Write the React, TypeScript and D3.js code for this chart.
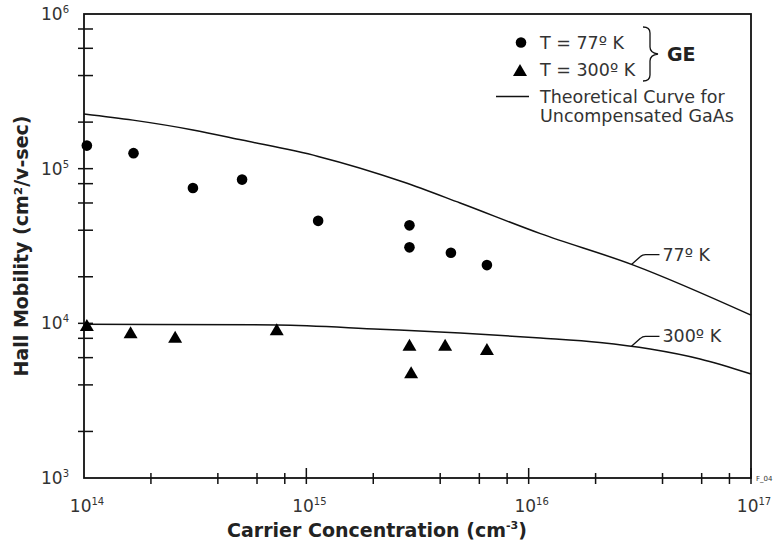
import React, { useEffect, useRef } from 'react';
import * as d3 from 'd3';

const W = 779;
const H = 548;

// GE samples at 77 K (cm^-3, cm^2/v-sec)
const ge77Conc = [1.03e14, 1.67e14, 3.09e14, 5.14e14, 1.13e15, 2.91e15, 2.91e15, 4.47e15, 6.49e15];
const ge77Mob = [1.41e5, 1.26e5, 7.5e4, 8.5e4, 4.6e4, 4.3e4, 3.1e4, 2.86e4, 2.38e4];

// GE samples at 300 K
const ge300Conc = [1.03e14, 1.62e14, 2.57e14, 7.36e14, 2.91e15, 2.96e15, 4.21e15, 6.49e15];
const ge300Mob = [9.76e3, 8.75e3, 8.2e3, 9.15e3, 7.28e3, 4.83e3, 7.28e3, 6.82e3];

// theoretical curves, uncompensated GaAs
const theory77Conc = [1e14, 1.66e14, 3.09e14, 5.14e14, 1.13e15, 2.73e15, 4.92e15, 1.13e16, 2.96e16, 1e17];
const theory77Mob = [2.26e5, 2.06e5, 1.78e5, 1.53e5, 1.2e5, 8.2e4, 6.0e4, 3.8e4, 2.38e4, 1.13e4];
const theory300Conc = [1e14, 7.4e14, 2.15e15, 4.92e15, 1.13e16, 2.09e16, 3.52e16, 5.9e16, 1e17];
const theory300Mob = [9.86e3, 9.76e3, 9.15e3, 8.66e3, 8.04e3, 7.52e3, 6.82e3, 5.88e3, 4.7e3];

// curve labels: text and where the leader touches the curve
const curveLabels = ['77º K', '300º K'];
const curveLabelAt = [[2.9e16, 2.4e4], [2.9e16, 7.1e3]];

// ticks
const xMinorTicks = [2e14, 4e14, 6e14, 8e14, 2e15, 4e15, 6e15, 8e15, 2e16, 4e16, 6e16, 8e16];
const xMajorTicks = [1e15, 1e16, 1e17];
const xTickLabels = [1e14, 1e15, 1e16, 1e17];
const yTicks = [2e3, 4e3, 6e3, 8e3, 1e4, 2e4, 4e4, 6e4, 8e4, 1e5, 2e5, 4e5, 6e5, 8e5];
const yTickLabels = [1e3, 1e4, 1e5, 1e6];

const FONT = '"DejaVu Sans", Verdana, sans-serif';
const INK = '#111';
const TEXT = '#333';

const App = () => {
  const ref = useRef<SVGSVGElement | null>(null);

  useEffect(() => {
    const svg = d3.select(ref.current);
    svg.selectAll('*').remove();

    const left = 84, right = 751, top = 14, bottom = 478;

    const x = d3.scaleLog().domain([1e14, 1e17]).range([left, right]);
    const y = d3.scaleLog().domain([1e3, 1e6]).range([bottom, top]);

    // frame
    svg.append('rect')
      .attr('x', left)
      .attr('y', top)
      .attr('width', right - left)
      .attr('height', bottom - top)
      .attr('fill', 'none')
      .attr('stroke', INK)
      .attr('stroke-width', 1.8);

    // y ticks
    svg.selectAll('.ytick')
      .data(yTicks)
      .enter()
      .append('line')
      .attr('x1', left - 6)
      .attr('x2', left + 9)
      .attr('y1', d => y(d))
      .attr('y2', d => y(d))
      .attr('stroke', INK)
      .attr('stroke-width', 1.5);

    // x ticks
    svg.selectAll('.xminor')
      .data(xMinorTicks)
      .enter()
      .append('line')
      .attr('x1', d => x(d))
      .attr('x2', d => x(d))
      .attr('y1', bottom - 5)
      .attr('y2', bottom + 6)
      .attr('stroke', INK)
      .attr('stroke-width', 1.5);

    svg.selectAll('.xmajor')
      .data(xMajorTicks)
      .enter()
      .append('line')
      .attr('x1', d => x(d))
      .attr('x2', d => x(d))
      .attr('y1', bottom - 10)
      .attr('y2', bottom + 6)
      .attr('stroke', INK)
      .attr('stroke-width', 1.5);

    const power = (sel, v) => {
      sel.append('tspan').text('10');
      sel.append('tspan')
        .attr('dy', -7)
        .attr('font-size', 10)
        .text(Math.round(Math.log10(v)));
    };

    // tick labels
    yTickLabels.forEach(v => {
      const t = svg.append('text')
        .attr('x', 69)
        .attr('y', y(v) + 6)
        .attr('text-anchor', 'end')
        .attr('font-family', FONT)
        .attr('font-size', 17)
        .attr('fill', TEXT);
      power(t, v);
    });

    xTickLabels.forEach(v => {
      const t = svg.append('text')
        .attr('x', x(v) + 3)
        .attr('y', 512)
        .attr('text-anchor', 'middle')
        .attr('font-family', FONT)
        .attr('font-size', 17)
        .attr('fill', TEXT);
      power(t, v);
    });

    // axis titles
    const xt = svg.append('text')
      .attr('x', 377)
      .attr('y', 537)
      .attr('text-anchor', 'middle')
      .attr('font-family', FONT)
      .attr('font-size', 19)
      .attr('font-weight', 'bold')
      .attr('fill', '#222');
    xt.append('tspan').text('Carrier Concentration (cm');
    xt.append('tspan').attr('dy', -8).attr('font-size', 11).text('-3');
    xt.append('tspan').attr('dy', 8).text(')');

    svg.append('text')
      .attr('transform', `translate(28, ${(top + bottom) / 2}) rotate(-90)`)
      .attr('text-anchor', 'middle')
      .attr('font-family', FONT)
      .attr('font-size', 19)
      .attr('font-weight', 'bold')
      .attr('fill', '#222')
      .text('Hall Mobility (cm²/v-sec)');

    // theory curves
    const line = d3.line()
      .x(d => x(d[0]))
      .y(d => y(d[1]))
      .curve(d3.curveMonotoneX);

    [[theory77Conc, theory77Mob], [theory300Conc, theory300Mob]].forEach(([cx, cy]) => {
      svg.append('path')
        .attr('d', line(cx.map((c, i) => [c, cy[i]])))
        .attr('fill', 'none')
        .attr('stroke', INK)
        .attr('stroke-width', 1.5);
    });

    // curve labels with leaders
    curveLabels.forEach((label, i) => {
      const ax = x(curveLabelAt[i][0]);
      const ay = y(curveLabelAt[i][1]);
      svg.append('path')
        .attr('d', `M${ax},${ay} L${ax + 9},${ay - 8} Q${ax + 11},${ay - 10} ${ax + 14},${ay - 10} L${ax + 28},${ay - 10}`)
        .attr('fill', 'none')
        .attr('stroke', INK)
        .attr('stroke-width', 1.3);
      svg.append('text')
        .attr('x', ax + 31)
        .attr('y', ay - 10 + 6)
        .attr('font-family', FONT)
        .attr('font-size', 17.5)
        .attr('fill', TEXT)
        .text(label);
    });

    // markers
    const tri = (cx, cy, w = 14, h = 12) =>
      `M${cx},${cy - h / 2} L${cx + w / 2},${cy + h / 2} L${cx - w / 2},${cy + h / 2} Z`;

    svg.selectAll('.p77')
      .data(ge77Conc)
      .enter()
      .append('circle')
      .attr('cx', d => x(d))
      .attr('cy', (d, i) => y(ge77Mob[i]))
      .attr('r', 5.3)
      .attr('fill', '#000');

    svg.selectAll('.p300')
      .data(ge300Conc)
      .enter()
      .append('path')
      .attr('d', (d, i) => tri(x(d), y(ge300Mob[i])))
      .attr('fill', '#000');

    // legend
    const lg = svg.append('g')
      .attr('font-family', FONT)
      .attr('font-size', 17.5)
      .attr('fill', TEXT);

    lg.append('circle').attr('cx', 521).attr('cy', 42.5).attr('r', 5.3).attr('fill', '#000');
    lg.append('text').attr('x', 540).attr('y', 48.5).text('T = 77º K');
    lg.append('path').attr('d', tri(520, 70)).attr('fill', '#000');
    lg.append('text').attr('x', 540).attr('y', 76).text('T = 300º K');

    lg.append('path')
      .attr('d', 'M643,27 Q650,27 650,33 L650,47 Q650,53 658,54 Q650,55 650,61 L650,75 Q650,81 643,81')
      .attr('fill', 'none')
      .attr('stroke', INK)
      .attr('stroke-width', 1.3);
    lg.append('text')
      .attr('x', 667)
      .attr('y', 61)
      .attr('font-size', 19)
      .attr('font-weight', 'bold')
      .attr('fill', '#222')
      .text('GE');

    lg.append('line')
      .attr('x1', 496).attr('x2', 529)
      .attr('y1', 96.5).attr('y2', 96.5)
      .attr('stroke', INK)
      .attr('stroke-width', 1.5);
    lg.append('text').attr('x', 540).attr('y', 103).text('Theoretical Curve for');
    lg.append('text').attr('x', 540).attr('y', 122).text('Uncompensated GaAs');

    // figure id at the corner
    svg.append('text')
      .attr('x', 756)
      .attr('y', 481)
      .attr('font-family', FONT)
      .attr('font-size', 7)
      .attr('fill', TEXT)
      .text('F_04');
  }, []);

  return (
    <svg
      ref={ref}
      width={W}
      height={H}
      style={{ position: 'absolute', left: 0, top: 0, background: '#fff' }}
    />
  );
};

export default App;
